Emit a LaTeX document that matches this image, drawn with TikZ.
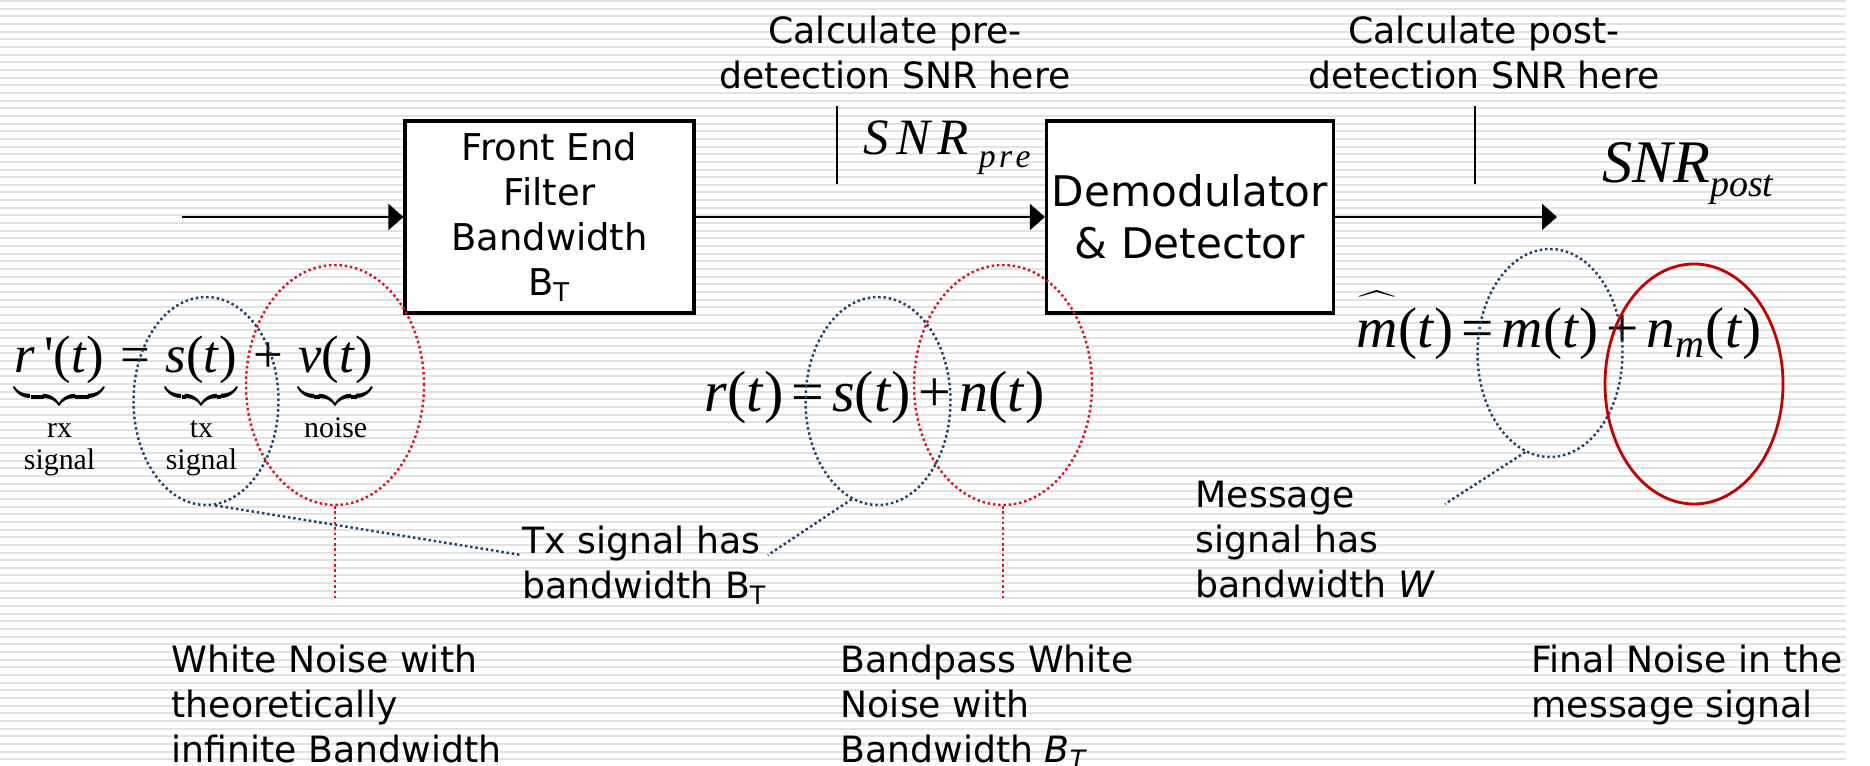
\documentclass[tikz,border=0pt]{standalone}
\usepackage{fontspec}
\setmainfont{DejaVu Sans}
\newfontfamily\tnr{Liberation Serif}
\usepackage{tikz}
\usetikzlibrary{arrows.meta}
\usetikzlibrary{shapes.geometric}
\definecolor{myblue}{HTML}{1F3F6F}
\definecolor{myred}{HTML}{E01020}
\definecolor{mydarkred}{HTML}{C40000}
\definecolor{stripegray}{HTML}{E2E2E2}

\newcommand{\vv}[1]{\textit{#1}}
\newcommand{\eqsp}{\hspace{0.14em}}
\newcommand{\brlab}[1]{\hbox{\tnr\fontsize{8.5}{9}\selectfont\begin{tabular}{@{}c@{}}#1\end{tabular}}}

\tikzset{
  block/.style={draw, line width=0.9pt, fill=white, inner sep=0pt, align=center},
  sig/.style={line width=0.6pt, -{Triangle[length=1.5mm,width=2.6mm]}},
  note/.style={inner sep=0pt, align=left, font=\fontsize{10.3}{12.8}\selectfont},
  dots/.style={line width=0.7pt, dash pattern=on 0.7pt off 0.8pt},
  oval/.style={ellipse, inner sep=0pt, minimum width=1.45cm, minimum height=2.08cm},
  bigoval/.style={ellipse, inner sep=0pt, minimum width=1.78cm, minimum height=2.40cm},
  stripeline/.style={stripegray, line width=0.2mm},
}

\begin{document}
\begin{tikzpicture}
        \fill[white] (0cm,0cm) rectangle (18.7cm,-7.66cm);
        \useasboundingbox (0cm,0cm) rectangle (18.7cm,-7.66cm);
        \begin{scope}
        \clip (0cm,0cm) rectangle (18.46cm,-7.66cm);
        \foreach \i in {0,...,99}
          \draw[stripeline] (0,{-0.0766*\i-0.01}) -- (18.46,{-0.0766*\i-0.01});

        \node[block, minimum width=2.89cm, minimum height=1.92cm,
          font=\fontsize{10.5}{12.8}\selectfont] (frontend) at (5.495cm,-2.17cm)
          {Front End\\Filter\\Bandwidth\\B\textsubscript{T}};
        \node[block, minimum width=2.87cm, minimum height=1.92cm,
          font=\fontsize{12}{14.8}\selectfont] (demod) at (11.9cm,-2.17cm)
          {Demodulator\\\& Detector};

        \coordinate (in) at (1.82cm,-2.17cm);
        \coordinate (out) at (15.57cm,-2.17cm);
        \draw[sig] (in) -- (frontend.west);
        \draw[sig] (frontend.east) -- (demod.west);
        \draw[sig] (demod.east) -- (out);

        \node[note, align=center, anchor=north] (prelbl) at (8.95cm,-0.15cm)
          {Calculate pre-\\detection SNR here};
        \node[note, align=center, anchor=north] (postlbl) at (14.84cm,-0.15cm)
          {Calculate post-\\detection SNR here};
        \coordinate (pretop) at (8.37cm,-1.06cm);
        \coordinate (prebot) at (8.37cm,-1.84cm);
        \coordinate (posttop) at (14.75cm,-1.06cm);
        \coordinate (postbot) at (14.75cm,-1.84cm);
        \draw[line width=0.6pt] (pretop) -- (prebot) (posttop) -- (postbot);

        \node[anchor=base west, inner sep=0pt, font=\tnr\itshape\fontsize{14.5}{16}\selectfont]
          (snrpre) at (8.63cm,-1.55cm)
          {S\hspace{0.14em}N\hspace{0.14em}R\hspace{0.2em}\raisebox{-1.3mm}{\fontsize{9.6}{10}\selectfont p\hspace{0.1em}r\hspace{0.1em}e}};
        \node[anchor=base west, inner sep=0pt, font=\tnr\itshape\fontsize{17.2}{19}\selectfont]
          (snrpost) at (16.02cm,-1.83cm)
          {SNR\raisebox{-1.4mm}{\fontsize{10.8}{12}\selectfont post}};

        \node[anchor=base west, inner sep=0pt, font=\tnr\fontsize{15}{17}\selectfont] (rxeq) at (0.14cm,-3.73cm)
          {$\underbrace{\hbox{\vv{r}\,'(\vv{t})}}_{\brlab{rx\\signal}}\hbox{\eqsp=\eqsp}\underbrace{\hbox{\vv{s}(\vv{t})}}_{\brlab{tx\\signal}}\hbox{\eqsp+\eqsp}\underbrace{\hbox{\vv{ν}(\vv{t})}}_{\brlab{noise}}$};
        \node[anchor=base west, inner sep=0pt, font=\tnr\fontsize{16.5}{18}\selectfont] (req) at (7.04cm,-4.12cm)
          {\vv{r}(\vv{t})\eqsp=\eqsp\vv{s}(\vv{t})\eqsp+\eqsp\vv{n}(\vv{t})};
        \node[anchor=base west, inner sep=0pt, font=\tnr\fontsize{16.3}{18}\selectfont] (meq) at (13.56cm,-3.48cm)
          {$\widehat{\hbox{\vv{m}}\rule{0pt}{0.8em}}$(\vv{t})\eqsp=\eqsp\vv{m}(\vv{t})\eqsp+\eqsp\vv{n}\textsubscript{\vv{m}}(\vv{t})};

        \node[oval, draw=myblue, dots] (bl1) at (2.06cm,-4.01cm) {};
        \node[bigoval, draw=myred, dots] (nz1) at (3.35cm,-3.85cm) {};
        \node[oval, draw=myblue, dots] (bl2) at (8.78cm,-4.01cm) {};
        \node[bigoval, draw=myred, dots] (nz2) at (10.03cm,-3.85cm) {};
        \node[oval, draw=myblue, dots] (bl3) at (15.50cm,-3.53cm) {};
        \node[bigoval, draw=mydarkred, line width=0.8pt] (nz3) at (16.94cm,-3.84cm) {};

        \node[note, anchor=north west] (txnote) at (5.22cm,-5.25cm)
          {Tx signal has\\bandwidth B\textsubscript{T}};
        \node[note, anchor=north west] (msgnote) at (11.95cm,-4.80cm)
          {Message\\signal has\\bandwidth \textit{W}};
        \node[note, anchor=north west] (wnote) at (1.71cm,-6.44cm)
          {White Noise with\\theoretically\\infinite Bandwidth};
        \node[note, anchor=north west] (bpnote) at (8.40cm,-6.44cm)
          {Bandpass White\\Noise with\\Bandwidth \textit{B}\textsubscript{\textit{T}}};
        \node[note, anchor=north west] (finnote) at (15.31cm,-6.44cm)
          {Final Noise in the\\message signal};

        \coordinate (nzfoot1) at (3.35cm,-5.98cm);
        \coordinate (nzfoot2) at (10.03cm,-5.98cm);
        \coordinate (msgend) at (14.45cm,-5.04cm);
        \draw[myred, dots] (nz1.south) -- (nzfoot1);
        \draw[myred, dots] (nz2.south) -- (nzfoot2);
        \draw[myblue, dots] (bl1.275) -- ([yshift=1mm]txnote.west);
        \draw[myblue, dots] (bl2.255) -- ([yshift=1mm]txnote.east);
        \draw[myblue, dots] (bl3.256) -- (msgend);
        \end{scope}
      \end{tikzpicture}
\end{document}
